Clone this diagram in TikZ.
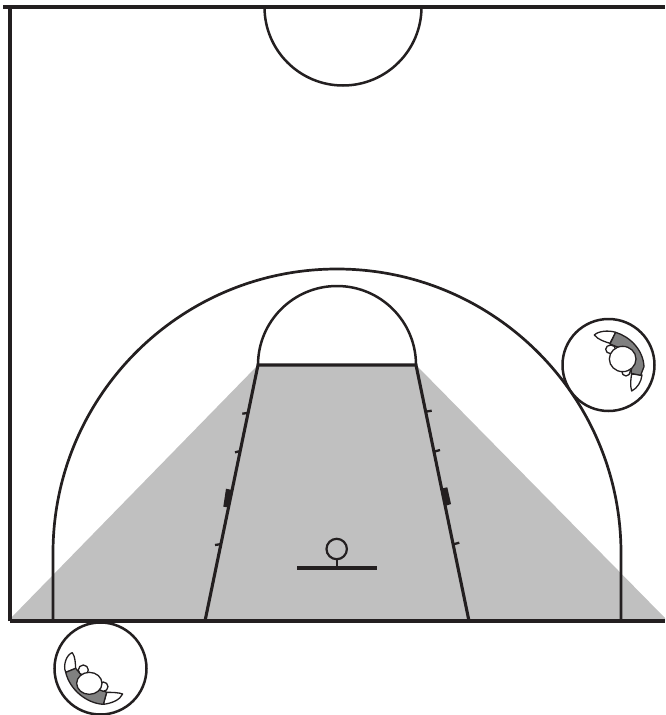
\documentclass[tikz,border=0pt]{standalone}
\definecolor{ink}{HTML}{231F20}
\definecolor{zone}{HTML}{C0C0C0}
\definecolor{shirt}{HTML}{808080}
\tikzset{
 court/.style={draw=ink,line width=3.1pt},
 thin mark/.style={draw=ink,line width=2.3pt},
 body/.style={draw=ink,line width=1.3pt,fill=white,line join=round},
 ring/.style={draw=ink,line width=2.5pt,fill=white},
}
\begin{document}
\begin{tikzpicture}[x=1pt,y=-1pt]
\useasboundingbox (0,0) rectangle (665,715);
% shaded zone
\fill[zone] (10,619) -- (258,365) -- (416,365) -- (665,618) -- (665,621) -- (10,621) -- cycle;
% court outline
\draw[court] (10,621) -- (10,7);
\draw[court] (3,7) -- (665,7);
\draw[court] (10,621) -- (665,621);
% centre circle
\draw[court,line width=2.5pt] (264.5,7) arc[start angle=180,end angle=360,x radius=78.5,y radius=-78.5];
% three point line
\draw[court,line width=2.7pt] (53,621) -- (53,553) arc[start angle=180,end angle=0,x radius=284,y radius=-284] -- (621,621);
% free throw
\draw[court,line width=2.5pt] (258,365) arc[start angle=180,end angle=0,x radius=79,y radius=-79];
\draw[court] (205,621) -- (258,365) -- (416,365) -- (469,621);
% hash marks
\draw[thin mark] (242.3,413.7) -- (249,412.7);
\draw[thin mark] (235,452.3) -- (240.7,451);
\draw[thin mark] (215,545) -- (221.7,544);
\draw[thin mark] (425.7,411.7) -- (431.7,410.7);
\draw[thin mark] (434,451.7) -- (440,450);
\draw[thin mark] (453.3,544.3) -- (459.3,542.7);
\fill[ink] (223.3,506.7) -- (226,488.7) -- (232,490) -- (229,507.5) -- cycle;
\fill[ink] (442.3,488.3) -- (447.3,487.3) -- (451,504) -- (445,506) -- cycle;
% hoop
\draw[draw=ink,line width=2.2pt] (336.7,549) circle[radius=10.2];
\draw[draw=ink,line width=2.2pt] (336.7,559) -- (336.7,568);
\draw[draw=ink,line width=3.4pt] (297,568) -- (377,568);
% top right player
\draw[ring] (608.5,365) circle[radius=46];
\begin{scope}[shift={(550,310)},x=0.3333pt,y=-0.3333pt]
 \draw[body] (133,75) .. controls (145,63) and (175,60) .. (197,67) -- (180,100) .. controls (165,95) and (145,90) .. (133,75) -- cycle;
 \draw[body] (245,192) -- (276,195) .. controls (274,215) and (262,235) .. (245,243) .. controls (240,225) and (242,210) .. (245,192) -- cycle;
 \draw[body,fill=shirt] (197,67) .. controls (240,80) and (280,120) .. (282,170) -- (272,196) -- (243,190) -- (250,130) -- (180,102) -- cycle;
 \draw[body] (182,118) ellipse[x radius=15,y radius=13];
 \draw[body] (228,183) ellipse[x radius=13,y radius=15];
 \draw[body] (218,147) ellipse[x radius=40,y radius=38];
\end{scope}
% bottom left player
\draw[ring] (100.5,668.5) circle[radius=46];
\begin{scope}[shift={(40,615)},x=0.3333pt,y=-0.3333pt]
 \draw[body] (77,172) .. controls (68,150) and (80,118) .. (97,113) .. controls (106,125) and (106,145) .. (107,160) -- cycle;
 \draw[body] (200,232) .. controls (220,232) and (238,233) .. (248,237) .. controls (240,255) and (215,265) .. (190,268) -- cycle;
 \draw[body,fill=shirt] (77,172) -- (107,160) -- (150,210) -- (200,232) -- (190,268) .. controls (140,265) and (90,225) .. (77,172) -- cycle;
 \draw[body] (130,165) circle[radius=15];
 \draw[body] (190,215) circle[radius=14];
 \draw[body] (148,205) ellipse[x radius=38,y radius=33];
\end{scope}
\end{tikzpicture}
\end{document}
